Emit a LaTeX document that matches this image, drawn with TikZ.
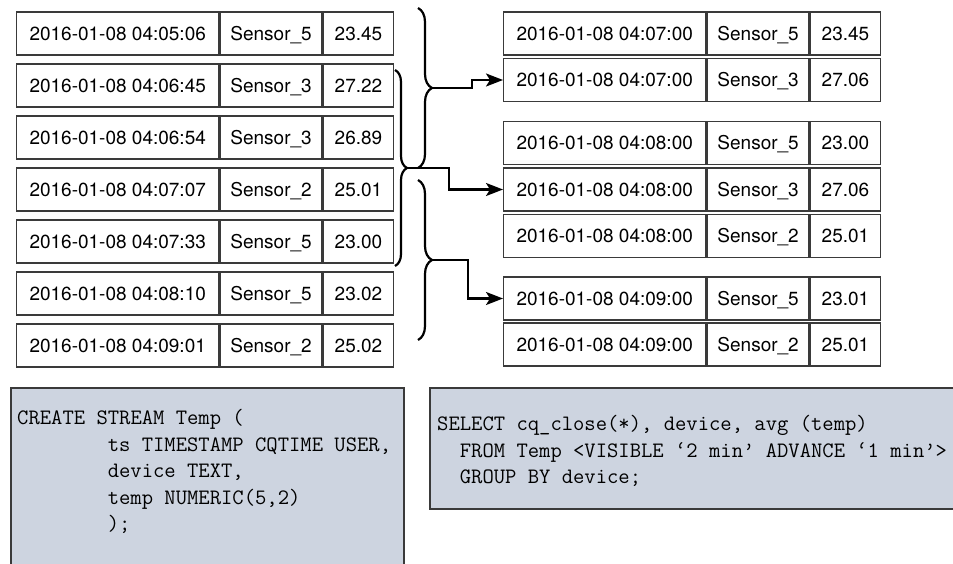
\documentclass[tikz,border=0pt]{standalone}
\usepackage{fontspec}
\setmainfont{TeX Gyre Heros}
\usepackage{tikz}
\usetikzlibrary{arrows.meta,decorations.pathreplacing,positioning}
\definecolor{codefill}{HTML}{CDD4E0}
\definecolor{framegray}{HTML}{3A3A3A}

\begin{document}
\begin{tikzpicture}[
    x=1pt, y=-1pt,
    cell/.style={rectangle, draw=framegray, line width=1.4pt,
                 minimum height=43pt, inner sep=0pt, anchor=west,
                 text height=13.6pt, text depth=0.4pt,
                 font=\fontsize{19}{22}\selectfont},
    timecell/.style={cell, minimum width=202pt},
    sensorcell/.style={cell, minimum width=102pt},
    valuecell/.style={cell, minimum width=70pt},
    codebox/.style={rectangle, draw=framegray, line width=2pt,
                    fill=codefill, anchor=north west, inner sep=0pt},
    code/.style={align=left, anchor=north west, inner sep=0pt,
                 font=\ttfamily\fontsize{22}{26.5}\selectfont},
    brace/.style={decorate, decoration={brace, amplitude=#1}, line width=2.2pt},
    flow/.style={-{Stealth[length=17pt, width=13pt, inset=4pt]}, line width=2.2pt}
]
\useasboundingbox (0,0) rectangle (953,564);
\clip (0,0) rectangle (953,564);

% incoming readings
\foreach \t/\s/\v [count=\i] in {04:05:06/Sensor\_5/23.45, 04:06:45/Sensor\_3/27.22,
    04:06:54/Sensor\_3/26.89, 04:07:07/Sensor\_2/25.01, 04:07:33/Sensor\_5/23.00,
    04:08:10/Sensor\_5/23.02, 04:09:01/Sensor\_2/25.02} {
  \node[timecell] (lt\i) at (16,{33.5+52*(\i-1)}) {2016-01-08 \t};
  \node[sensorcell] (ls\i) at (lt\i.east) {\s};
  \node[valuecell] (lv\i) at (ls\i.east) {\v};
}

% averaged output
\foreach \y/\t/\s/\v [count=\i] in {33.5/04:07:00/Sensor\_5/23.45, 80/04:07:00/Sensor\_3/27.06,
    143/04:08:00/Sensor\_5/23.00, 189.5/04:08:00/Sensor\_3/27.06, 236/04:08:00/Sensor\_2/25.01,
    298.5/04:09:00/Sensor\_5/23.01, 344.5/04:09:00/Sensor\_2/25.01} {
  \node[timecell] (rt\i) at (503,\y) {2016-01-08 \t};
  \node[sensorcell] (rs\i) at (rt\i.east) {\s};
  \node[valuecell] (rv\i) at (rs\i.east) {\v};
}

% windows
\coordinate (w1top) at (418,8);
\coordinate (w1bot) at (418,168);
\coordinate (w1tip) at (432,88);
\coordinate (w2top) at (395,70);
\coordinate (w2bot) at (395,266);
\coordinate (w2tip) at (407,168);
\coordinate (w3top) at (418,180);
\coordinate (w3bot) at (418,340);
\coordinate (w3tip) at (432,260);
\draw[brace=14pt] (w1top) -- (w1bot);
\draw[brace=12pt] (w2top) -- (w2bot);
\draw[brace=14pt] (w3top) -- (w3bot);
\draw[flow] (w1tip) -- ++(40,0) |- (rt2.west);
\draw[flow] (w2tip) -- ++(42,0) |- (rt4.west);
\draw[flow] (w3tip) -- ++(36,0) |- (rt6.west);

% queries
\node[codebox, minimum width=393pt, minimum height=200pt] (createbox) at (10,387) {};
\node[codebox, minimum width=540pt, minimum height=121pt] (selectbox) at (429,387) {};
\node[code] (createcode) at (17,409.5) {CREATE STREAM Temp (\\
~~~~~~~~ts TIMESTAMP CQTIME USER,\\
~~~~~~~~device TEXT,\\
~~~~~~~~temp NUMERIC(5,2)\\
~~~~~~~~);};
\node[code] (selectcode) at (437,415.5) {SELECT cq\_close(*), device, avg (temp)\\
~~FROM Temp <VISIBLE ‘2 min’ ADVANCE ‘1 min’>\\
~~GROUP BY device;};
\end{tikzpicture}
\end{document}
